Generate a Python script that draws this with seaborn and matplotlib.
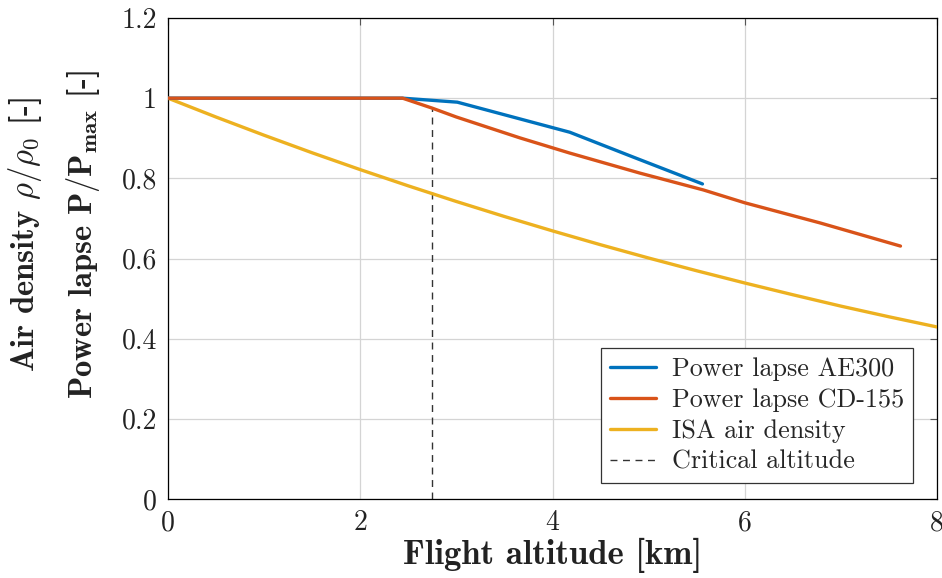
import matplotlib
matplotlib.use("Agg")
import matplotlib.pyplot as plt
import seaborn as sns
import pandas as pd

# Data
ae300_alt = [0.0, 2.44, 3.01, 4.18, 4.84, 5.56]
ae300_val = [1.0, 1.0, 0.99, 0.915, 0.853, 0.786]

cd155_alt = [0.0, 2.44, 2.75, 3.0, 3.66, 4.18, 4.91, 5.57, 6.0, 6.78, 7.62]
cd155_val = [1.0, 1.0, 0.975, 0.953, 0.901, 0.863, 0.813, 0.771, 0.739, 0.689, 0.631]

isa_alt = [0.0, 0.5, 1.0, 1.5, 2.0, 2.5, 3.0, 3.5, 4.0, 4.5, 5.0, 5.5, 6.0, 6.5, 7.0, 7.5, 8.0]
isa_val = [1.0, 0.9529, 0.9075, 0.8637, 0.8217, 0.7812, 0.7422, 0.7048, 0.6689,
           0.6343, 0.6012, 0.5694, 0.5389, 0.5096, 0.4812, 0.4546, 0.4292]

critical_alt = 2.75
critical_top = 0.975

labels = ["Power lapse AE300", "Power lapse CD-155", "ISA air density", "Critical altitude"]
colors = ["#0072BD", "#D95319", "#EDB120"]
xticks = [0, 2, 4, 6, 8]
yticks = [0, 0.2, 0.4, 0.6, 0.8, 1.0, 1.2]
yticklabels = ["0", "0.2", "0.4", "0.6", "0.8", "1", "1.2"]

sns.set_style("white")
plt.rcParams["font.family"] = ["cmr10", "DejaVu Serif"]
plt.rcParams["mathtext.fontset"] = "cm"
plt.rcParams["axes.formatter.use_mathtext"] = True

fig = plt.figure(figsize=(9.42, 5.78), dpi=100)
ax = fig.add_axes([168/942, 1-499/578, (937-168)/942, (499-18)/578])

df1 = pd.DataFrame({"x": ae300_alt, "y": ae300_val})
df2 = pd.DataFrame({"x": cd155_alt, "y": cd155_val})
df3 = pd.DataFrame({"x": isa_alt, "y": isa_val})

sns.lineplot(data=df1, x="x", y="y", ax=ax, color=colors[0], lw=2.4, label=labels[0], sort=False, zorder=4)
sns.lineplot(data=df2, x="x", y="y", ax=ax, color=colors[1], lw=2.4, label=labels[1], sort=False, zorder=5)
sns.lineplot(data=df3, x="x", y="y", ax=ax, color=colors[2], lw=2.4, label=labels[2], sort=False, zorder=3)
ax.plot([critical_alt, critical_alt], [0, critical_top], color="#333333", lw=1.0,
        ls=(0, (5, 4)), label=labels[3], zorder=2)

ax.set_xlim(0, 8)
ax.set_ylim(0, 1.2)
ax.set_xticks(xticks)
ax.set_xticklabels([str(t) for t in xticks])
ax.set_yticks(yticks)
ax.set_yticklabels(yticklabels)
ax.tick_params(axis="both", direction="in", length=5, width=0.8, color="#555555",
               labelsize=20, top=True, right=True, pad=8, labelcolor="#222222")
ax.grid(True, color="#d4d4d4", lw=0.9)
ax.set_axisbelow(True)
for s in ax.spines.values():
    s.set_color("black")
    s.set_linewidth(0.9)

ax.set_xlabel("Flight altitude [km]", fontsize=25, family="cmb10", color="#222222", labelpad=1)
ax.set_ylabel("Air density $\\rho/\\rho_0$ [-]\nPower lapse $\\mathbf{P/P_{max}}$ [-]",
              fontsize=23.5, family="cmb10", color="#222222", linespacing=1.7)
ax.yaxis.set_label_coords(-0.086, 0.55)

leg = ax.legend(loc="lower right", bbox_to_anchor=(0.969, 0.033), fontsize=18.8,
                frameon=True, fancybox=False, edgecolor="#333333", framealpha=1,
                handlelength=1.75, handletextpad=0.6, borderpad=0.35, labelspacing=0.28,
                borderaxespad=0)
leg.get_frame().set_linewidth(0.9)

fig.savefig("out.png", dpi=100)
